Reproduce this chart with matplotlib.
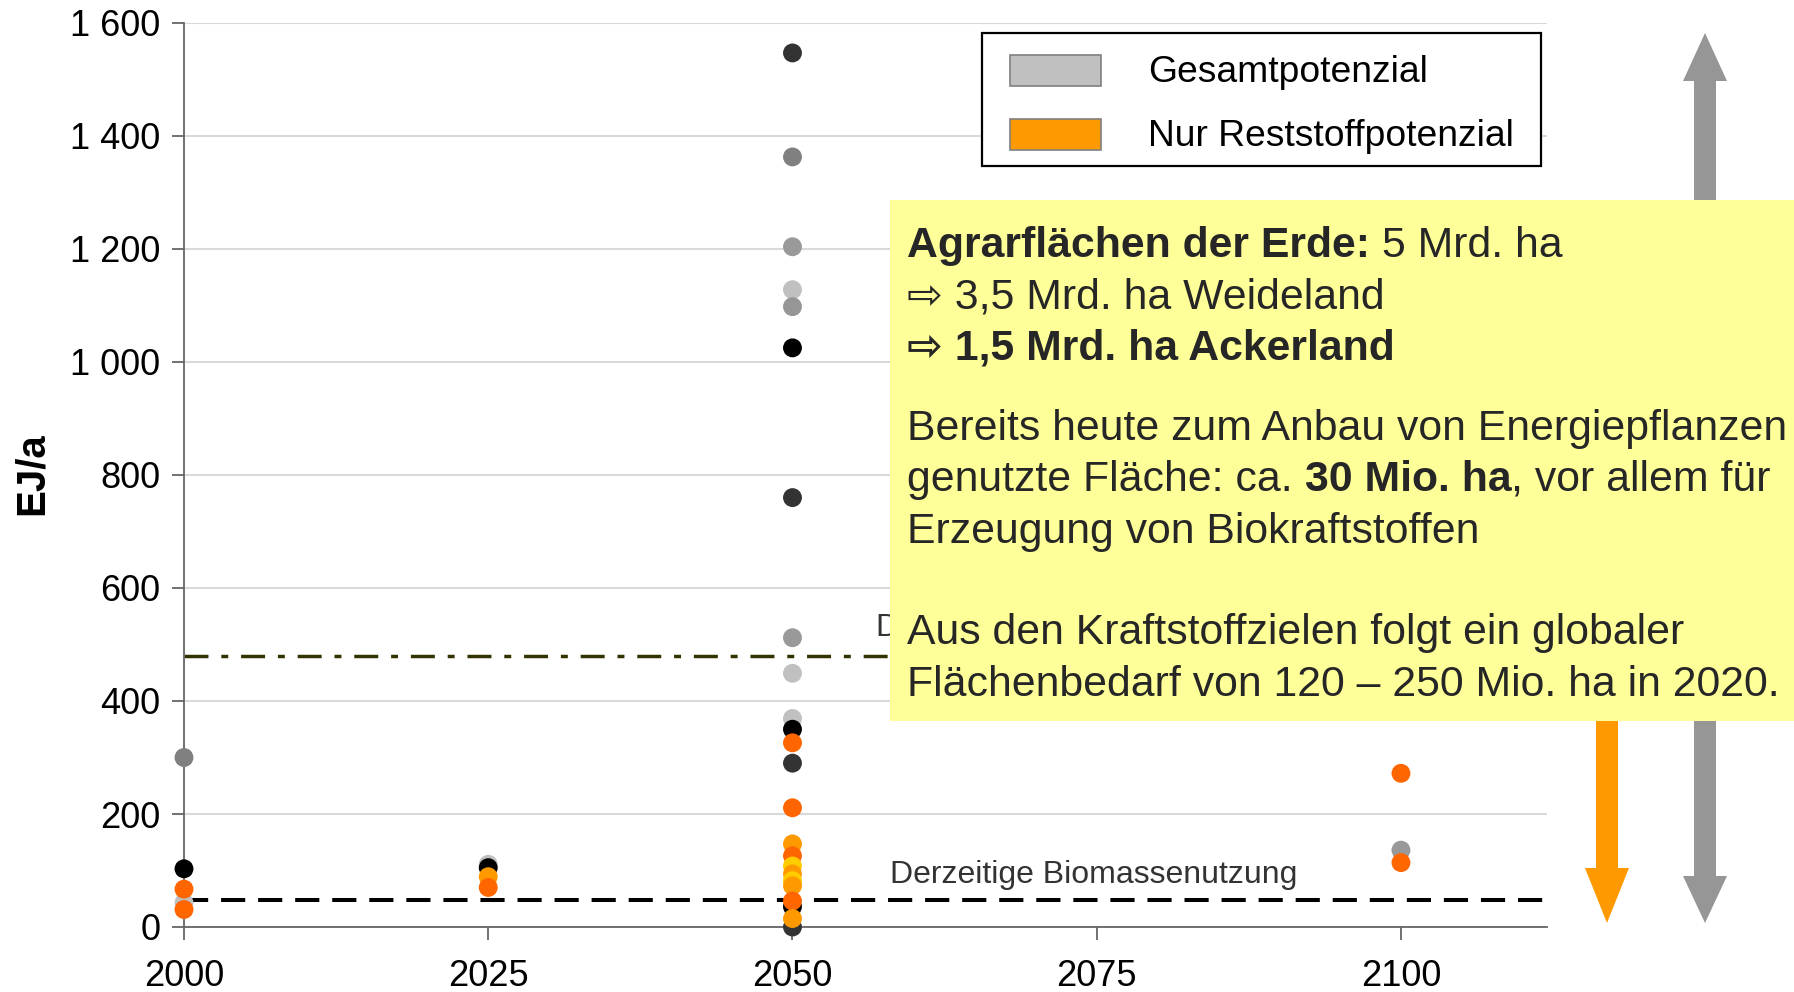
import matplotlib
matplotlib.use("Agg")
import matplotlib.pyplot as plt
from matplotlib.patches import Rectangle, Polygon

plt.rcParams["font.family"] = ["Liberation Sans", "DejaVu Sans"]

# --- data -----------------------------------------------------------------
# Gesamtpotenzial (grey/black points)
ges_years = [2000, 2000, 2000,
             2025, 2025,
             2050, 2050, 2050, 2050, 2050, 2050, 2050,
             2050, 2050, 2050, 2050, 2050, 2050, 2050,
             2100]
ges_values = [300, 103, 43,
              111, 105,
              1547, 1363, 1204, 1128, 1098, 1025, 760,
              512, 449, 369, 350, 290, 36, 0,
              136]
ges_colors = ["#808080", "#000000", "#C0C0C0",
              "#C0C0C0", "#000000",
              "#333333", "#808080", "#999999", "#C0C0C0", "#969696", "#000000", "#333333",
              "#999999", "#C0C0C0", "#C0C0C0", "#000000", "#333333", "#000000", "#333333",
              "#999999"]

# Nur Reststoffpotenzial (orange points)
rest_years = [2000, 2000,
              2025, 2025,
              2050, 2050, 2050, 2050, 2050, 2050, 2050, 2050, 2050, 2050,
              2100, 2100]
rest_values = [67, 31,
               89, 70,
               326, 211, 147, 126, 108, 94, 82, 73, 46, 15,
               272, 114]
rest_colors = ["#FF6600", "#FF6600",
               "#FF9900", "#FF6600",
               "#FF6600", "#FF6600", "#FF9900", "#FF6600", "#FFCC00", "#FF9900",
               "#FFCC00", "#FF9900", "#FF6600", "#FF9900",
               "#FF6600", "#FF6600"]

biomass_now = 48      # Derzeitige Biomassenutzung
demand_now = 480      # Derzeitiger Primaerenergiebedarf (hidden behind box)

xticks = [2000, 2025, 2050, 2075, 2100]
yticks = [0, 200, 400, 600, 800, 1000, 1200, 1400, 1600]
ytick_labels = ["0", "200", "400", "600", "800", "1 000", "1 200", "1 400", "1 600"]

legend_labels = ["Gesamtpotenzial", "Nur Reststoffpotenzial"]
legend_colors = ["#C0C0C0", "#FF9900"]

# --- figure ---------------------------------------------------------------
W, H = 1794, 992


def fx(px):
    return px / W


def fy(py):
    return 1 - py / H


fig = plt.figure(figsize=(W / 100, H / 100), dpi=100)
ax = fig.add_axes([fx(184), fy(927), (1547 - 184) / W, (927 - 23) / H])

ax.set_xlim(2000, 2112)
ax.set_ylim(0, 1600)
ax.set_xticks(xticks)
ax.set_yticks(yticks)
ax.set_yticklabels(ytick_labels)
ax.tick_params(axis="both", labelsize=26, length=9, width=1.3, color="#666666")
ax.tick_params(axis="x", pad=14)
ax.tick_params(axis="y", pad=8)

for s in ["top", "right"]:
    ax.spines[s].set_visible(False)
for s in ["left", "bottom"]:
    ax.spines[s].set_color("#666666")
    ax.spines[s].set_linewidth(1.3)
ax.yaxis.grid(True, color="#D9D9D9", linewidth=1.5)
ax.set_axisbelow(True)

# reference lines
ax.axhline(biomass_now, color="black", linewidth=2.9, dashes=(6, 3.2), zorder=2)
ax.axhline(demand_now, color="#333300", linewidth=2.5, dashes=(6.9, 3.7, 2, 3.7), zorder=2)
ax.text(2058.0, 92, "Derzeitige Biomassenutzung", fontsize=23, color="#333333",
        va="center", ha="left")
ax.text(2056.9, 530, "Derzeitiger Primärenergiebedarf", fontsize=23, color="#333333",
        va="center", ha="left")

# points
ax.scatter(ges_years, ges_values, c=ges_colors, s=185, linewidths=0, zorder=3, clip_on=False)
ax.scatter(rest_years, rest_values, c=rest_colors, s=185, linewidths=0, zorder=4, clip_on=False)

fig.text(fx(32), fy(474), "EJ/a", rotation=90, fontsize=29, fontweight="bold",
         ha="center", va="center")

# legend (drawn by hand to match the boxed layout)
fig.add_artist(Rectangle((fx(982), fy(166)), (1541 - 982) / W, (166 - 33) / H,
                         transform=fig.transFigure, facecolor="white", edgecolor="black",
                         linewidth=1.6, zorder=5))
for i, (lab, col) in enumerate(zip(legend_labels, legend_colors)):
    top = 55 + i * 64
    fig.add_artist(Rectangle((fx(1010), fy(top + 31)), 91 / W, 31 / H,
                             transform=fig.transFigure, facecolor=col,
                             edgecolor="#808080", linewidth=1.2, zorder=6))
    fig.text(fx(1148), fy(top + 18), lab, fontsize=26.8, va="center", ha="left", zorder=6)

# arrows on the right
gx, hw, sw = 1705, 22, 11
gray_pts = [(gx, 33), (gx + hw, 81), (gx + sw, 81), (gx + sw, 876), (gx + hw, 876),
            (gx, 923), (gx - hw, 876), (gx - sw, 876), (gx - sw, 81), (gx - hw, 81)]
fig.add_artist(Polygon([(fx(x), fy(y)) for x, y in gray_pts], closed=True,
                       transform=fig.transFigure, facecolor="#969696",
                       edgecolor="none", zorder=4))
ox = 1607
orange_pts = [(ox - sw, 680), (ox + sw, 680), (ox + sw, 868), (ox + hw, 868),
              (ox, 923), (ox - hw, 868), (ox - sw, 868)]
fig.add_artist(Polygon([(fx(x), fy(y)) for x, y in orange_pts], closed=True,
                       transform=fig.transFigure, facecolor="#FF9900",
                       edgecolor="none", zorder=4))

# yellow text box
fig.add_artist(Rectangle((fx(890), fy(721)), (W - 890) / W, (721 - 200) / H,
                         transform=fig.transFigure, facecolor="#FFFF99",
                         edgecolor="none", zorder=7))

box_lines = [
    [("Agrarflächen der Erde: ", "bold"), ("5 Mrd. ha", "normal")],
    [("⇨ 3,5 Mrd. ha Weideland", "normal")],
    [("⇨ 1,5 Mrd. ha Ackerland", "bold")],
    [("Bereits heute zum Anbau von Energiepflanzen", "normal")],
    [("genutzte Fläche: ca. ", "normal"), ("30 Mio. ha", "bold"), (", vor allem für", "normal")],
    [("Erzeugung von Biokraftstoffen", "normal")],
    [("Aus den Kraftstoffzielen folgt ein globaler", "normal")],
    [("Flächenbedarf von 120 – 250 Mio. ha in 2020.", "normal")],
]
baselines = [257, 308, 360, 440, 491, 543, 644, 696]
fs = 30.8
for parts, yb in zip(box_lines, baselines):
    prev = None
    for txt, wt in parts:
        if prev is None:
            prev = fig.text(fx(907), fy(yb), txt, fontsize=fs, fontweight=wt,
                            color="#262626", va="baseline", ha="left", zorder=8)
        else:
            prev = fig.add_artist(plt.Annotation(txt, xy=(1, 0), xycoords=prev,
                                                 fontsize=fs, fontweight=wt,
                                                 color="#262626", va="bottom",
                                                 ha="left", zorder=8))

fig.savefig("out.png", dpi=100)
